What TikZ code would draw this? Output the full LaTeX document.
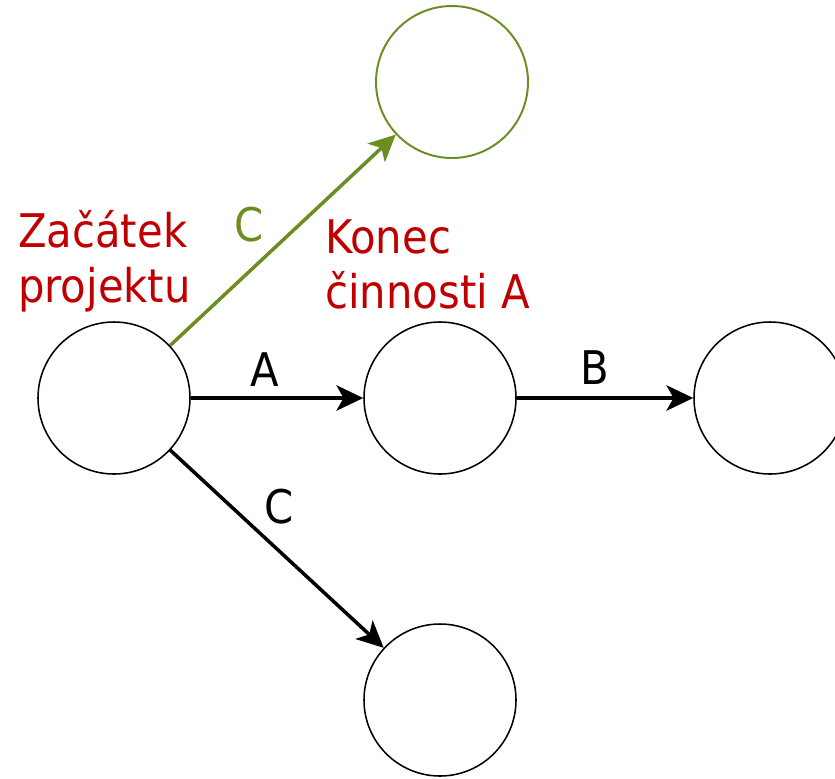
\documentclass[tikz,border=0pt]{standalone}
\usepackage{fontspec}
\setmainfont{DejaVu Sans Condensed}
\usetikzlibrary{arrows.meta}
\definecolor{darkred}{HTML}{C00000}
\definecolor{leafgreen}{HTML}{6B8E23}

\begin{document}
\begin{tikzpicture}[every node/.style={font=\fontsize{33}{39}\selectfont},
		event/.style={circle,draw,line width=1.1pt,minimum size=3.8cm,inner sep=0pt},
		act/.style={line width=2.5pt,-{Stealth[length=19pt,width=18pt,inset=5pt]}}]
	\useasboundingbox (0,0) rectangle (20.875,-19.45);
	        \node[event] at (2.85,-9.95)   (start) {};
	        \node[event] at (11,-9.95)     (endA) {};
	        \node[event] at (19.25,-9.95)  (endB) {};
	        \node[event,draw=leafgreen,line width=1.4pt] at (11.3,-2.05) (endCg) {};
	        \node[event] at (11,-17.5)     (endC) {};

	        % base sits on the last line of a multi-line node
	        \node[darkred,align=left,anchor=base west,inner sep=0pt] at (0.45,-7.55) (startlbl) {Začátek\\projektu};
	        \node[darkred,align=left,anchor=base west,inner sep=0pt] at (8.125,-7.7) (endAlbl) {Konec\\činnosti A};

			\path[act] (start) edge node[above=0.12cm,pos=0.43] {A} (endA)
							(endA) edge node[above=0.17cm,pos=0.44] {B} (endB)
							(start) edge node[above=0.52cm,pos=0.51] {C} (endC);
			\path[act,leafgreen] (start) edge node[above=0.57cm,pos=0.35] {C} (endCg);
		\end{tikzpicture}
\end{document}
